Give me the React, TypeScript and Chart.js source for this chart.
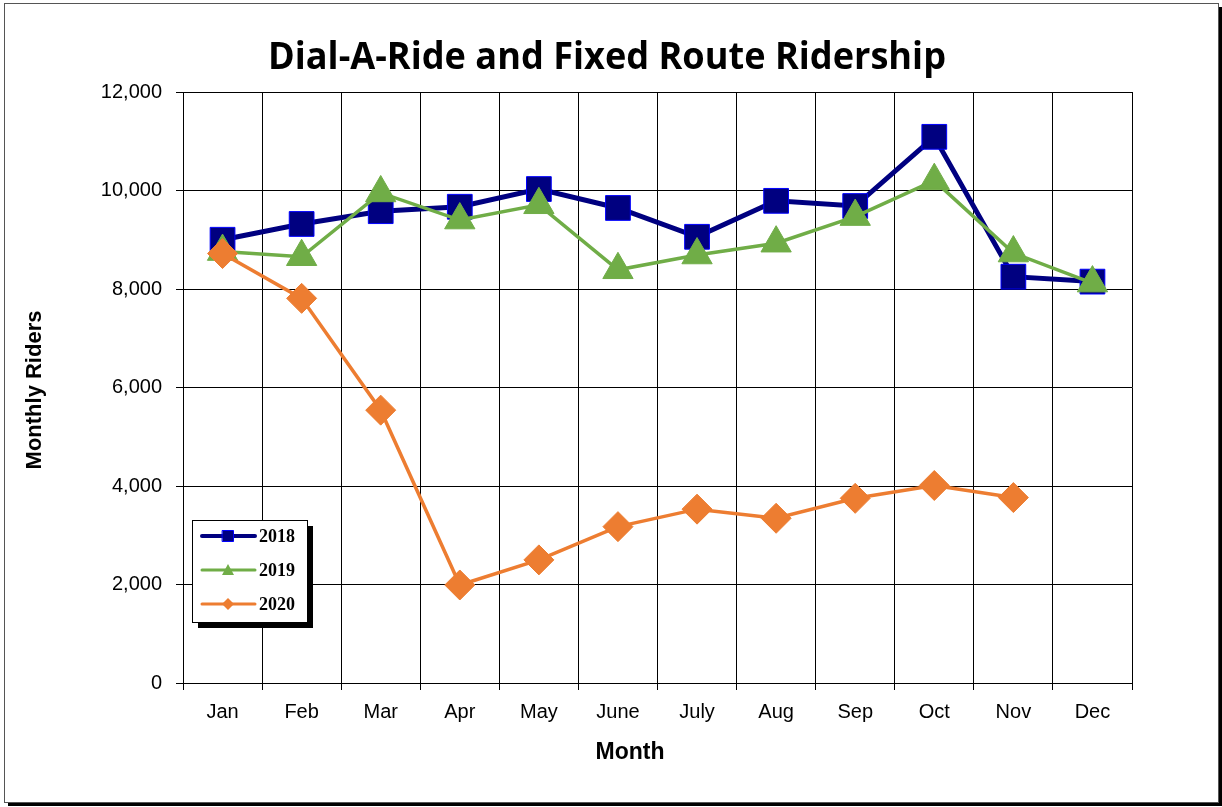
import React, { useEffect, useRef } from "react";
import { Chart, registerables } from "chart.js";

Chart.register(...registerables);

const months = ["Jan", "Feb", "Mar", "Apr", "May", "June", "July", "Aug", "Sep", "Oct", "Nov", "Dec"];
const riders2018 = [9000, 9320, 9580, 9670, 10030, 9645, 9060, 9790, 9685, 11090, 8250, 8150];
const riders2019 = [8760, 8655, 9950, 9400, 9710, 8390, 8690, 8930, 9470, 10200, 8730, 8120];
const riders2020 = [8720, 7810, 5540, 1990, 2500, 3175, 3530, 3345, 3750, 4010, 3765, null];
const seriesNames = ["2018", "2019", "2020"];
const yTicks = [0, 2000, 4000, 6000, 8000, 10000, 12000];

const titleText = "Dial-A-Ride and Fixed Route Ridership";
const yTitle = "Monthly Riders";
const xTitle = "Month";

const NAVY = "#000080";
const BLUE = "#0000FF";
const GREEN = "#70AD47";
const ORANGE = "#ED7D31";

const decorPlugin = {
  id: "decor",
  beforeDraw(chart: any) {
    const ctx = chart.ctx;
    ctx.save();
    ctx.fillStyle = "#fff";
    ctx.fillRect(0, 0, chart.width, chart.height);
    ctx.fillStyle = "#000";
    ctx.fillRect(8, 803, 1214, 3);
    ctx.fillRect(1219, 7, 3, 799);
    ctx.strokeStyle = "#555";
    ctx.lineWidth = 1;
    ctx.strokeRect(4.5, 3.5, 1214, 799);
    ctx.restore();
  },
  afterDraw(chart: any) {
    const ctx = chart.ctx;
    const area = chart.chartArea;
    ctx.save();
    ctx.fillStyle = "#000";
    ctx.font = "bold 38px 'Open Sans'";
    ctx.textAlign = "center";
    ctx.textBaseline = "middle";
    const w = ctx.measureText(titleText).width;
    const target = 678;
    ctx.save();
    ctx.translate(607, 58);
    ctx.scale(target / w, 1);
    ctx.fillText(titleText, 0, 0);
    ctx.restore();
    ctx.font = "bold 22px 'Liberation Sans'";
    ctx.save();
    ctx.translate(35, 390);
    ctx.rotate(-Math.PI / 2);
    ctx.fillText(yTitle, 0, 0);
    ctx.restore();
    ctx.font = "bold 23px 'Liberation Sans'";
    ctx.fillText(xTitle, 630, 753);

    const lx = 192, ly = 520, lw = 115, lh = 102;
    ctx.fillStyle = "#000";
    ctx.fillRect(lx + 6, ly + 6, lw, lh);
    ctx.fillStyle = "#fff";
    ctx.fillRect(lx, ly, lw, lh);
    ctx.strokeStyle = "#000";
    ctx.lineWidth = 1;
    ctx.strokeRect(lx + 0.5, ly + 0.5, lw, lh);
    const rows = [536, 570, 604];
    const colors = [NAVY, GREEN, ORANGE];
    const widths = [4, 3, 3];
    ctx.lineCap = "round";
    rows.forEach((y, i) => {
      ctx.strokeStyle = colors[i];
      ctx.lineWidth = widths[i];
      ctx.beginPath();
      ctx.moveTo(202, y);
      ctx.lineTo(255, y);
      ctx.stroke();
      const cx = 228;
      ctx.fillStyle = colors[i];
      ctx.beginPath();
      if (i === 0) {
        ctx.rect(cx - 5.5, y - 5.5, 11, 11);
        ctx.fill();
        ctx.strokeStyle = BLUE;
        ctx.lineWidth = 1;
        ctx.stroke();
      } else if (i === 1) {
        ctx.moveTo(cx, y - 6);
        ctx.lineTo(cx + 6, y + 5);
        ctx.lineTo(cx - 6, y + 5);
        ctx.closePath();
        ctx.fill();
      } else {
        ctx.moveTo(cx, y - 6);
        ctx.lineTo(cx + 6, y);
        ctx.lineTo(cx, y + 6);
        ctx.lineTo(cx - 6, y);
        ctx.closePath();
        ctx.fill();
      }
      ctx.fillStyle = "#000";
      ctx.font = "bold 18px 'Liberation Serif'";
      ctx.textAlign = "left";
      ctx.textBaseline = "middle";
      ctx.fillText(seriesNames[i], 259, y + 1);
    });
    ctx.restore();
  },
};

export default function App() {
  const canvasRef = useRef<HTMLCanvasElement | null>(null);

  useEffect(() => {
    if (!canvasRef.current) return;
    const chart = new Chart(canvasRef.current, {
      type: "line",
      data: {
        labels: months,
        datasets: [
          {
            label: seriesNames[0],
            data: riders2018,
            borderColor: NAVY,
            backgroundColor: NAVY,
            borderWidth: 5,
            pointStyle: "rect",
            pointRadius: 17.5,
            pointBackgroundColor: NAVY,
            pointBorderColor: BLUE,
            pointBorderWidth: 1,
            order: 2,
          },
          {
            label: seriesNames[1],
            data: riders2019,
            borderColor: GREEN,
            backgroundColor: GREEN,
            borderWidth: 3.5,
            pointStyle: "triangle",
            pointRadius: 17.5,
            pointBackgroundColor: GREEN,
            pointBorderColor: GREEN,
            pointBorderWidth: 1,
            order: 1,
          },
          {
            label: seriesNames[2],
            data: riders2020,
            borderColor: ORANGE,
            backgroundColor: ORANGE,
            borderWidth: 3.5,
            pointStyle: "rectRot",
            pointRadius: 15,
            pointBackgroundColor: ORANGE,
            pointBorderColor: ORANGE,
            pointBorderWidth: 1,
            order: 0,
          },
        ],
      },
      options: {
        responsive: false,
        animation: false,
        devicePixelRatio: 1,
        layout: { padding: { top: 92, right: 90, left: 0, bottom: 0 } },
        plugins: {
          legend: { display: false },
          title: { display: false },
          tooltip: { enabled: false },
        },
        scales: {
          x: {
            type: "category",
            offset: true,
            grid: { offset: true, color: "#000", lineWidth: 1, tickLength: 7, drawTicks: true },
            border: { color: "#000", width: 1 },
            ticks: {
              color: "#000",
              font: { family: "'Liberation Sans'", size: 20 },
              padding: 10,
              maxRotation: 0,
            },
            afterFit: (s: any) => {
              s.height = 124;
            },
          },
          y: {
            min: 0,
            max: 12000,
            afterBuildTicks: (s: any) => {
              s.ticks = yTicks.map((v) => ({ value: v }));
            },
            grid: { color: "#000", lineWidth: 1, tickLength: 7 },
            border: { color: "#000", width: 1 },
            ticks: {
              color: "#000",
              font: { family: "'Liberation Sans'", size: 20 },
              padding: 14,
              callback: (v: any) => Number(v).toLocaleString("en-US"),
            },
            afterFit: (s: any) => {
              s.width = 183;
            },
          },
        },
      },
      plugins: [decorPlugin],
    });
    return () => chart.destroy();
  }, []);

  return (
    <div style={{ position: "fixed", left: 0, top: 0, width: 1222, height: 807, background: "#fff" }}>
      <canvas ref={canvasRef} width={1222} height={807} style={{ display: "block" }} />
    </div>
  );
}
